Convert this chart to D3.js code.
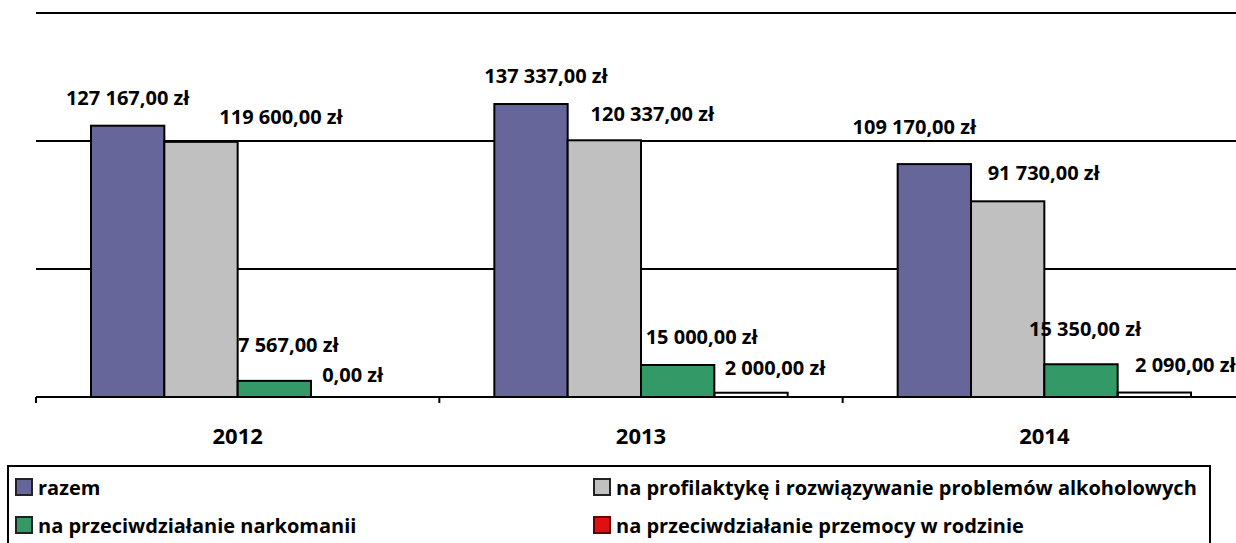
<!DOCTYPE html>
<html>
<head>
<meta charset="utf-8">
<script src="https://cdn.jsdelivr.net/npm/d3@7"></script>
<style>
  body { margin: 0; background: #fff; }
  svg { display: block; }
  text { font-family: "Open Sans", sans-serif; font-weight: bold; fill: #000; }
</style>
</head>
<body>
<script>
// data
var years = ["2012", "2013", "2014"];
var seriesNames = [
  "razem",
  "na profilaktykę i rozwiązywanie problemów alkoholowych",
  "na przeciwdziałanie narkomanii",
  "na przeciwdziałanie przemocy w rodzinie"
];
var razem = [127167, 137337, 109170];
var alkohol = [119600, 120337, 91730];
var narkomania = [7567, 15000, 15350];
var przemoc = [0, 2000, 2090];
var gridValues = [0, 60000, 120000, 180000];

var colors = ["#66669a", "#c0c0c0", "#339966", "#e01010"];
// label nudges relative to default spot (bar centre, 21px above top)
var labelShift = [
  [[0, 0], [15, 0], [-20, -9]],
  [[80, 3], [48, 2], [36, 0]],
  [[14, -8], [24, 0], [4, -7]],
  [[5, 6], [24, 3], [31, 0]]
];

var W = 1236, H = 543;
var svg = d3.select("body").append("svg").attr("width", W).attr("height", H);

var x = d3.scaleBand().domain(years).range([36, 1246]).paddingOuter(0).paddingInner(0);
var y = d3.scaleLinear().domain([0, 180000]).range([397, 13]);
var barPad = 55;
var xs = d3.scaleBand().domain(d3.range(4))
  .range([barPad, x.bandwidth() - barPad]);

// grid lines
svg.append("g").selectAll("line").data(gridValues).enter().append("line")
  .attr("x1", 36).attr("x2", W)
  .attr("y1", d => y(d)).attr("y2", d => y(d))
  .attr("stroke", "#000").attr("stroke-width", 2);

// ticks at band edges
svg.append("g").selectAll("line").data(years).enter().append("line")
  .attr("x1", d => x(d)).attr("x2", d => x(d))
  .attr("y1", y(0)).attr("y2", y(0) + 6)
  .attr("stroke", "#000").attr("stroke-width", 2);

var series = [razem, alkohol, narkomania, przemoc];
var bars = [];
series.forEach(function(vals, s) {
  vals.forEach(function(v, i) {
    bars.push({ s: s, i: i, v: v });
  });
});

svg.append("g").selectAll("rect").data(bars.filter(d => d.v > 0)).enter().append("rect")
  .attr("x", d => x(years[d.i]) + xs(d.s))
  .attr("y", d => y(d.v))
  .attr("width", xs.bandwidth())
  .attr("height", d => y(0) - y(d.v))
  .attr("fill", d => colors[d.s])
  .attr("fill-opacity", d => d.s === 3 ? 0 : 1)
  .attr("stroke", "#000").attr("stroke-width", 2);

// baseline on top
svg.append("line").attr("x1", 36).attr("x2", W)
  .attr("y1", y(0)).attr("y2", y(0))
  .attr("stroke", "#000").attr("stroke-width", 2);

function fmt(v) {
  var s = d3.format(",.2f")(v);
  return s.replace(/,/g, " ").replace(".", ",") + " zł";
}

svg.append("g").selectAll("text").data(bars).enter().append("text")
  .attr("x", d => x(years[d.i]) + xs(d.s) + xs.bandwidth() / 2 + labelShift[d.s][d.i][0])
  .attr("y", d => y(d.v) - 21 + labelShift[d.s][d.i][1])
  .attr("text-anchor", "middle")
  .attr("font-size", 20)
  .text(d => fmt(d.v));

// category labels
svg.append("g").selectAll("text").data(years).enter().append("text")
  .attr("x", d => x(d) + x.bandwidth() / 2)
  .attr("y", 444)
  .attr("text-anchor", "middle")
  .attr("font-size", 22)
  .text(d => d);

// legend
var lg = svg.append("g");
lg.append("rect").attr("x", 8).attr("y", 466).attr("width", 1202).attr("height", 90)
  .attr("fill", "none").attr("stroke", "#000").attr("stroke-width", 2);
var lx = [15, 593], ly = [487, 525];
var items = lg.selectAll("g.item").data(seriesNames).enter().append("g")
  .attr("transform", (d, i) => "translate(" + lx[i % 2] + "," + ly[Math.floor(i / 2)] + ")");
items.append("rect").attr("x", 1).attr("y", -8).attr("width", 16).attr("height", 16)
  .attr("fill", (d, i) => colors[i])
  .attr("stroke", (d, i) => i === 3 ? "#600" : "#222").attr("stroke-width", 2);
items.append("text").attr("x", 23).attr("y", 8)
  .attr("font-size", 20)
  .text(d => d);
</script>
</body>
</html>
